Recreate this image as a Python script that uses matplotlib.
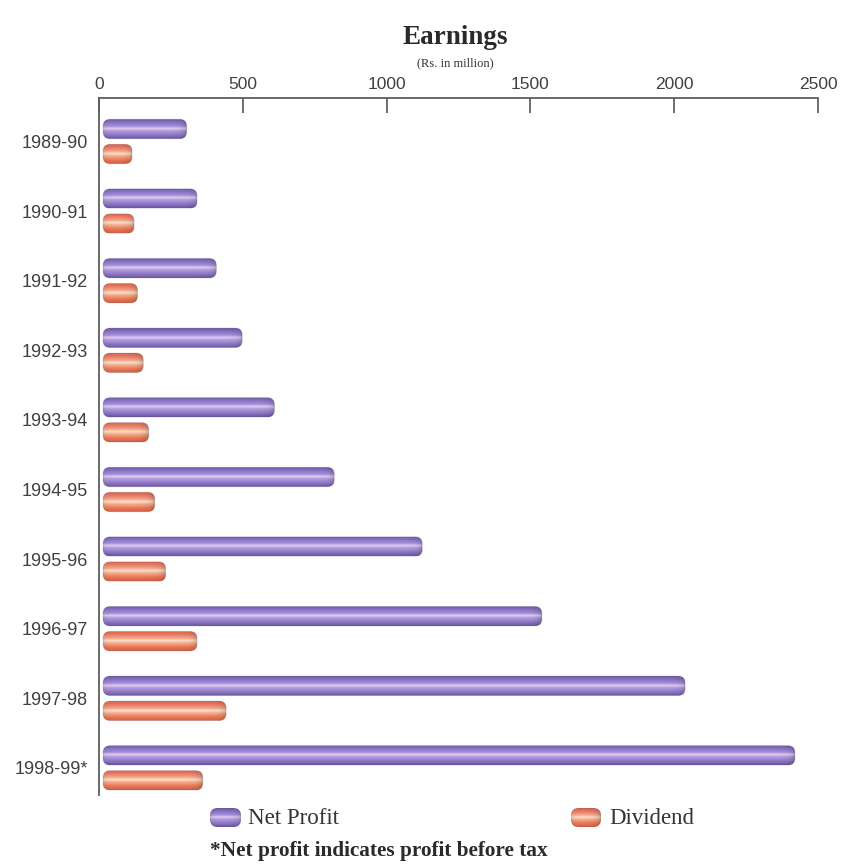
import numpy as np
import matplotlib
matplotlib.use("Agg")
import matplotlib.pyplot as plt
from matplotlib.patches import FancyBboxPatch
from matplotlib.colors import to_rgb

# Earnings data (Rs. in million)
years = ["1989-90", "1990-91", "1991-92", "1992-93", "1993-94",
         "1994-95", "1995-96", "1996-97", "1997-98", "1998-99*"]
net_profit = [305, 341, 408, 498, 610, 818, 1124, 1540, 2038, 2420]
dividend = [115, 122, 134, 154, 173, 194, 232, 341, 442, 361]
x_ticks = [0, 500, 1000, 1500, 2000, 2500]

# Cylinder shading profiles (top edge -> bottom edge)
purple_stops = [(0.00, "#6c5aa2"), (0.18, "#8a74c6"), (0.36, "#a690da"),
                (0.47, "#e4d0f2"), (0.58, "#b69ee0"), (0.80, "#8e78c6"),
                (1.00, "#66569e")]
salmon_stops = [(0.00, "#d2634c"), (0.18, "#ea7c64"), (0.36, "#f4a88e"),
                (0.48, "#fbe2ca"), (0.60, "#f5ae8e"), (0.80, "#ea7856"),
                (1.00, "#cf6042")]

W, H = 850, 864
fig = plt.figure(figsize=(W / 100, H / 100), dpi=100)
fig.patch.set_facecolor("white")

# plot area in pixels
AX_L, AX_R, AX_T, AX_B = 99, 818, 98, 795
ax = fig.add_axes([AX_L / W, 1 - AX_B / H, (AX_R - AX_L) / W, (AX_B - AX_T) / H])

X_MAX = x_ticks[-1]
GROUP_PX = 69.6
FIRST_PX = 141.5
y_top = -(FIRST_PX - AX_T) / GROUP_PX
y_bot = (AX_B - FIRST_PX) / GROUP_PX

px_x = (AX_R - AX_L) / X_MAX
px_y = GROUP_PX


def profile(stops, n=48):
    t = np.linspace(0, 1, n)
    pos = [s[0] for s in stops]
    cols = np.array([to_rgb(s[1]) for s in stops])
    return np.stack([np.interp(t, pos, cols[:, k]) for k in range(3)], axis=1)


def draw_bar(axis, x0, x1, yc, h, stops, sx, sy, r_px=7.0, zorder=2):
    """Rounded cylinder-like bar from x0 to x1 centred on yc."""
    width_px = max((x1 - x0) * sx, 2)
    nx = int(np.ceil(width_px)) + 1
    d_right = np.linspace(width_px, 0, nx)
    d_left = np.linspace(0, width_px, nx)
    shade = 1 - 0.22 * np.exp(-d_right / 4.0) - 0.08 * np.exp(-d_left / 3.0)
    prof = profile(stops)
    img = np.clip(prof[:, None, :] * shade[None, :, None], 0, 1)

    aspect = sx / sy
    patch = FancyBboxPatch((x0, yc - h / 2), x1 - x0, h,
                           boxstyle=f"round,pad=0,rounding_size={r_px / sx}",
                           mutation_aspect=aspect,
                           facecolor="none", edgecolor=(0.3, 0.25, 0.4, 0.2),
                           linewidth=0.6, zorder=zorder + 1,
                           transform=axis.transData)
    axis.add_patch(patch)
    im = axis.imshow(img, extent=(x0, x1, yc + h / 2, yc - h / 2),
                     aspect="auto", interpolation="bilinear", zorder=zorder)
    im.set_clip_path(patch)


BAR_H = 19.5 / GROUP_PX
OFFSET = 12.5 / GROUP_PX
BAR_START = 4 / px_x

for i, (npv, dv) in enumerate(zip(net_profit, dividend)):
    draw_bar(ax, BAR_START, npv, i - OFFSET, BAR_H, purple_stops, px_x, px_y)
    draw_bar(ax, BAR_START, dv, i + OFFSET, BAR_H, salmon_stops, px_x, px_y)

ax.set_xlim(0, X_MAX)
ax.set_ylim(y_bot, y_top)
ax.set_facecolor("none")

# axes styling
for side in ("right", "bottom"):
    ax.spines[side].set_visible(False)
for side in ("top", "left"):
    ax.spines[side].set_color("#5e5e5e")
    ax.spines[side].set_linewidth(1.3)

ax.xaxis.tick_top()
ax.set_xticks(x_ticks)
ax.set_xticklabels([str(v) for v in x_ticks])
ax.tick_params(axis="x", direction="in", length=11, width=1.2, color="#555555",
               pad=4, labelsize=12.5, labelcolor="#404040")
for lbl in ax.get_xticklabels():
    lbl.set_family("Liberation Sans")

ax.set_yticks(range(len(years)))
ax.set_yticklabels(years)
ax.tick_params(axis="y", length=0, pad=8, labelsize=13, labelcolor="#404040")
for lbl in ax.get_yticklabels():
    lbl.set_family("Liberation Sans")

# titles
fig.text(455 / W, 1 - 37 / H, "Earnings", ha="center", va="center",
         family="Liberation Serif", weight="bold", size=19.5, color="#2a2a2a")
fig.text(455 / W, 1 - 63 / H, "(Rs. in million)", ha="center", va="center",
         family="Liberation Serif", size=9, color="#333333")

# legend
def legend_icon(x0, y0, w, h, stops):
    lax = fig.add_axes([x0 / W, 1 - (y0 + h) / H, w / W, h / H])
    lax.set_xlim(0, w)
    lax.set_ylim(h, 0)
    lax.axis("off")
    draw_bar(lax, 0, w, h / 2, h, stops, 1.0, 1.0, r_px=8.0)
    lax.set_xlim(0, w)
    lax.set_ylim(h, 0)


legend_icon(210, 808, 31, 19, purple_stops)
legend_icon(571, 808, 30, 19, salmon_stops)
fig.text(248 / W, 1 - 818 / H, "Net Profit", ha="left", va="center",
         family="Liberation Serif", size=16.5, color="#333333")
fig.text(609 / W, 1 - 818 / H, "Dividend", ha="left", va="center",
         family="Liberation Serif", size=16.5, color="#333333")

fig.text(210 / W, 1 - 851 / H, "*Net profit indicates profit before tax",
         ha="left", va="center", family="Liberation Serif", weight="bold",
         size=15.3, color="#2a2a2a")

fig.savefig("out.png", dpi=100, facecolor="white")
